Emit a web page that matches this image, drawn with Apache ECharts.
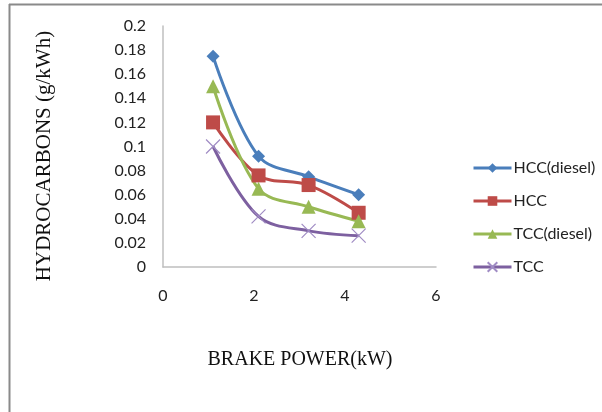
<!DOCTYPE html>
<html>
<head>
<meta charset="utf-8">
<script src="https://cdn.jsdelivr.net/npm/echarts@6/dist/echarts.min.js"></script>
<style>
  html, body { margin: 0; padding: 0; background: #fff; }
  #chart { width: 602px; height: 412px; }
</style>
</head>
<body>
<div id="chart"></div>
<script>
// brake power (kW)
const power = [1.1, 2.1, 3.2, 4.3];
// hydrocarbons (g/kWh)
const hccDiesel = [0.175, 0.092, 0.075, 0.06];
const hcc = [0.12, 0.076, 0.068, 0.045];
const tccDiesel = [0.15, 0.065, 0.05, 0.038];
const tcc = [0.1, 0.042, 0.03, 0.026];
const seriesNames = ["HCC(diesel)", "HCC", "TCC(diesel)", "TCC"];
const xTicks = [0, 2, 4, 6];
const yMax = 0.2;

const pairs = (ys) => power.map((x, i) => [x, ys[i]]);
const crossPath = "path://M0,0 L10,10 M10,0 L0,10";

const myChart = echarts.init(document.getElementById("chart"));

function line(name, ys, color, symbol, size, extra) {
  return Object.assign({
    type: "line",
    name: name,
    data: pairs(ys),
    smooth: 0.35,
    symbol: symbol,
    symbolSize: size,
    lineStyle: { color: color, width: 3 },
    itemStyle: { color: color },
    z: 3
  }, extra || {});
}

myChart.setOption({
  animation: false,
  grid: { left: 163, top: 26, right: 166, bottom: 145 },
  legend: {
    orient: "vertical",
    left: 467,
    top: 155,
    itemWidth: 38,
    itemHeight: 12,
    itemGap: 17,
    lineStyle: { width: 3 },
    textStyle: { fontFamily: "Lato", fontSize: 16, color: "#222", padding: [0, 0, 0, -3] },
    data: seriesNames
  },
  xAxis: {
    type: "value",
    min: 0,
    max: 6,
    interval: 2,
    axisLine: { show: true, onZero: false, lineStyle: { color: "#bfbfbf", width: 1.5 } },
    axisTick: { show: false },
    splitLine: { show: false },
    axisLabel: { margin: 21, fontFamily: "Lato", fontSize: 16, color: "#222" }
  },
  yAxis: {
    type: "value",
    min: 0,
    max: yMax,
    interval: 0.02,
    axisLine: { show: true, lineStyle: { color: "#bfbfbf", width: 1.5 } },
    axisTick: { show: false },
    splitLine: { show: false },
    axisLabel: {
      margin: 17,
      fontFamily: "Lato",
      fontSize: 16,
      color: "#222",
      formatter: (v) => String(parseFloat(v.toFixed(2)))
    }
  },
  graphic: [
    // outer frame, only top and left edges visible
    { type: "line", shape: { x1: 9, y1: 4.5, x2: 602, y2: 4.5 }, style: { stroke: "#8a8a8a", lineWidth: 2 } },
    { type: "line", shape: { x1: 9.5, y1: 4, x2: 9.5, y2: 412 }, style: { stroke: "#8a8a8a", lineWidth: 2 } },
    {
      type: "text",
      x: 44,
      y: 156,
      rotation: Math.PI / 2,
      style: {
        text: "HYDROCARBONS (g/kWh)",
        font: "21px 'Liberation Serif'",
        fill: "#111",
        align: "center",
        verticalAlign: "middle"
      }
    },
    {
      type: "text",
      x: 300,
      y: 360,
      style: {
        text: "BRAKE POWER(kW)",
        font: "20px 'Liberation Serif'",
        fill: "#111",
        align: "center",
        verticalAlign: "middle"
      }
    }
  ],
  series: [
    line(seriesNames[0], hccDiesel, "#4a7ebb", "diamond", 13),
    line(seriesNames[1], hcc, "#be4b48", "rect", 14),
    line(seriesNames[2], tccDiesel, "#98b954", "triangle", 14),
    line(seriesNames[3], tcc, "#7d60a0", crossPath, 14, {
      itemStyle: { color: "transparent", borderColor: "#a08cc4", borderWidth: 1.2 }
    })
  ]
});
window.onresize = myChart.resize;
</script>
</body>
</html>
